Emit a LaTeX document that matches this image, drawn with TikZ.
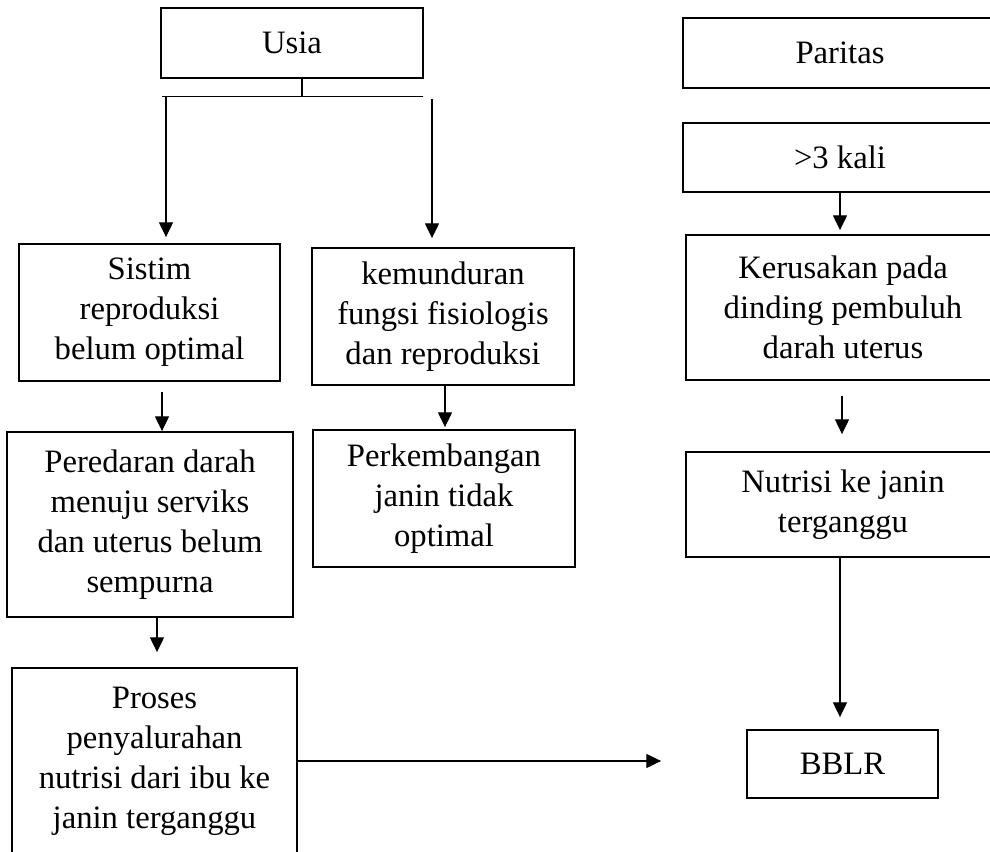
\documentclass[tikz,border=0pt]{standalone}
\usepackage{fontspec}
\setmainfont{Liberation Serif}
\usetikzlibrary{arrows.meta,calc}

\def\upx{0.75pt}
\tikzset{
  kotak/.style={draw, line width=1.4pt, inner sep=0pt, align=center,
    font=\fontsize{24.5}{30}\selectfont},
  panah/.style={line width=0.8pt, -{Triangle[width=10.5pt,length=11pt]}},
  garis/.style={line width=0.8pt}
}

\begin{document}
\begin{tikzpicture}[x=0.75pt,y=-0.75pt]
                    \useasboundingbox (0,0) rectangle (990,852);
                    \clip (0,0) rectangle (990,852);

                    \node[kotak, minimum width=262*\upx, minimum height=70*\upx] (usia) at (292,43) {Usia};
                    \node[kotak, minimum width=261*\upx, minimum height=137*\upx] (sistim) at (149.5,312.5) {Sistim\\reproduksi\\belum optimal};
                    \node[kotak, minimum width=262*\upx, minimum height=137*\upx] (kemunduran) at (443,316.5) {kemunduran\\fungsi fisiologis\\dan reproduksi};
                    \node[kotak, minimum width=286*\upx, minimum height=185*\upx] (peredaran) at (150,524.5) {Peredaran darah\\menuju serviks\\dan uterus belum\\sempurna};
                    \node[kotak, minimum width=262*\upx, minimum height=137*\upx] (perkembangan) at (444,498.5) {Perkembangan\\janin tidak\\optimal};
                    \node[kotak, minimum width=285*\upx, minimum height=186*\upx] (proses) at (154.5,761) {Proses\\penyalurahan\\nutrisi dari ibu ke\\janin terganggu};

                    \node[kotak, minimum width=314*\upx, minimum height=70*\upx] (paritas) at (840,53) {Paritas};
                    \node[kotak, minimum width=314*\upx, minimum height=69*\upx] (kali) at (840,157.5) {>3 kali};
                    \node[kotak, minimum width=314*\upx, minimum height=145*\upx] (kerusakan) at (843,307.5) {Kerusakan pada\\dinding pembuluh\\darah uterus};
                    \node[kotak, minimum width=314*\upx, minimum height=105*\upx] (nutrisi) at (843,504.5) {Nutrisi ke janin\\terganggu};
                    \node[kotak, minimum width=191*\upx, minimum height=68*\upx] (bblr) at (842.5,764) {BBLR};

                    \coordinate (cabang) at ($(usia.south)+(10,18)$);
                    \coordinate (cabangkiri) at ($(cabang)+(-140,0)$);
                    \coordinate (cabangkanan) at ($(cabang)+(121,0)$);
                    \draw[garis] ($(usia.south)+(10,0)$) -- (cabang);
                    \draw[garis] (cabangkiri) -- (cabangkanan);
                    \draw[panah] ($(cabangkiri)+(4,0)$) -- ($(sistim.north)+(16.5,-6)$);
                    \draw[panah] ($(cabangkanan)+(9,2)$) -- ($(kemunduran.north)+(-11,-9)$);

                    \draw[panah] ($(sistim.south)+(12.5,10)$) -- ($(peredaran.north)+(12,0)$);
                    \draw[panah] ($(kemunduran.south)+(2,0)$) -- ($(perkembangan.north)+(1,-2)$);
                    \draw[panah] ($(peredaran.south)+(7,0)$) -- ($(proses.north)+(2.5,-15)$);

                    \draw[panah] (kali.south) -- ($(kerusakan.north)+(-3,-4)$);
                    \draw[panah] ($(kerusakan.south)+(-1,15)$) -- ($(nutrisi.north)+(-1,-17)$);
                    \draw[panah] ($(nutrisi.south)+(-3,0)$) -- ($(bblr.north)+(-2.5,-12)$);

                    \draw[panah] (proses.east) -- ($(bblr.west)+(-85,-3)$);
\end{tikzpicture}
\end{document}
